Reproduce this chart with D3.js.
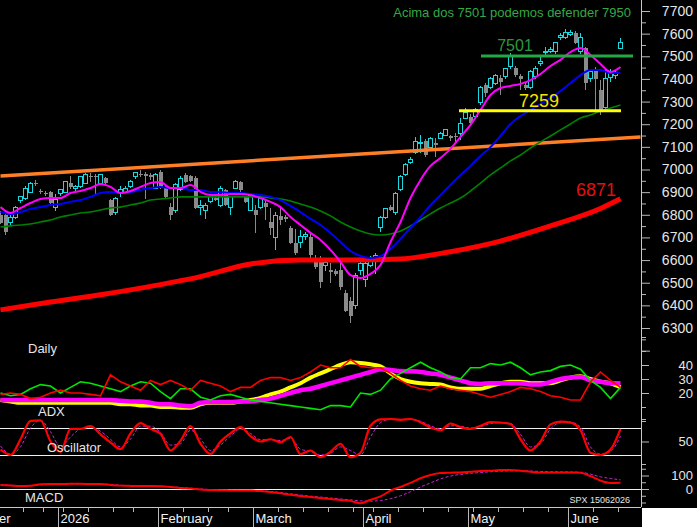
<!DOCTYPE html>
<html>
<head>
<meta charset="utf-8">
<script src="https://cdn.jsdelivr.net/npm/d3@7/dist/d3.min.js"></script>
<style>
  body { margin: 0; background: #000; }
  svg { display: block; }
  text { font-family: "Liberation Sans", Arial, sans-serif; }
</style>
</head>
<body>
<svg id="chart" width="697" height="527"></svg>
<script>
// ---- data: SPX daily, Dec 15 2025 .. Jun 15 2026 (one value per trading day) ----
var openP = [6800,6799,6768,6786,6861,6870,6900,6942,6905,6896,6900,6830,
  6896,6900,6940,6918,6927,6940,6972,6972,6940,6963,6865,6808,6896,6900,6923,6967,6982,6978,6975,6918,
  6990,6918,6834,6817,6910,6976,6970,6962,6830,6821,6857,6875,6843,6910,6834,6918,6945,6879,6821,
  6821,6834,6852,6768,6698,6795,6790,6742,6676,6676,6705,6702,6592,6592,6575,6556,6550,6556,6455,6419,6401,6552,
  6512,6578,6592,6746,6786,6834,6808,6910,6976,7033,7077,7113,7126,7099,7117,7139,7152,7148,7146,7161,7227,
  7232,7232,7294,7373,7364,7382,7404,7409,7453,7448,7413,7373,7364,7409,7470,7515,7523,7519,7585,7581,
  7598,7603,7519,7537,7400,7440,7351,7272,7405,7415,7535];
var highP = [6815,6805,6800,6840,6885,6925,6945,6955,6915,6905,6905,6890,
  6915,6950,6970,6930,6972,6985,6985,6980,6980,6968,6870,6880,6925,6925,6955,6990,7000,6990,6985,6985,
  7000,6925,6850,6940,6970,6985,6975,6970,6865,6850,6885,6880,6925,6915,6885,6955,6950,6885,6895,
  6843,6885,6860,6830,6812,6834,6800,6750,6737,6733,6725,6724,6623,6618,6600,6585,6560,6590,6470,6435,6545,6592,
  6605,6620,6630,6795,6830,6845,6900,6975,7030,7055,7144,7152,7135,7145,7139,7165,7180,7152,7161,7227,7272,
  7245,7270,7370,7380,7410,7422,7417,7450,7515,7455,7420,7385,7440,7455,7497,7541,7540,7565,7603,7620,
  7615,7610,7603,7541,7440,7453,7395,7440,7445,7440,7580];
var lowP = [6760,6712,6755,6780,6850,6865,6895,6925,6890,6885,6845,6815,
  6885,6895,6915,6900,6920,6935,6945,6887,6935,6935,6795,6800,6880,6895,6918,6960,6965,6870,6955,6912,
  6915,6875,6775,6810,6905,6940,6945,6825,6800,6780,6850,6860,6835,6840,6800,6912,6900,6850,6815,
  6720,6825,6777,6711,6645,6755,6770,6670,6623,6654,6690,6600,6560,6477,6550,6500,6530,6470,6370,6322,6385,6535,
  6481,6570,6539,6724,6780,6815,6800,6905,6970,7025,7070,7073,7055,7095,7055,7135,7148,7126,7113,7130,7227,
  7190,7225,7285,7320,7355,7375,7329,7400,7445,7410,7351,7350,7355,7400,7457,7506,7515,7510,7572,7575,
  7590,7555,7510,7351,7385,7245,7241,7262,7385,7400,7530];
var closeP = [6764,6724,6790,6834,6879,6918,6940,6938,6900,6893,6852,6866,
  6910,6945,6922,6927,6967,6976,6968,6965,6976,6940,6799,6874,6910,6918,6949,6985,6978,6972,6965,6980,
  6920,6879,6799,6932,6962,6945,6950,6830,6840,6843,6879,6865,6914,6843,6879,6949,6910,6857,6887,
  6799,6874,6834,6742,6795,6777,6782,6676,6631,6702,6715,6623,6570,6503,6590,6547,6540,6481,6375,6353,6530,6583,
  6587,6613,6618,6786,6826,6821,6892,6967,7024,7046,7122,7120,7064,7139,7110,7161,7175,7140,7142,7205,7250,
  7205,7263,7364,7338,7404,7417,7386,7444,7497,7417,7400,7360,7431,7448,7475,7523,7532,7559,7590,7607,
  7607,7559,7585,7382,7431,7400,7263,7400,7425,7430,7560];

// moving averages, one reading every second bar (bars 0,2,4,...,124)
var maFast = [6834,6808,6830,6852,6870,6874,6874,6896,6905,6918,
  6936,6923,6896,6905,6923,6940,6945,6918,6918,6932,
  6901,6887,6887,6892,6892,6887,6874,6857,6834,6790,
  6755,6720,6689,6645,6592,6534,6521,6539,6578,6680,
  6768,6874,6954,7016,7051,7091,7144,7197,7263,7329,
  7360,7369,7378,7395,7422,7457,7484,7519,7537,7506,
  7466,7431,7453];
var maMid = [6812,6804,6812,6826,6834,6843,6848,6857,6865,6879,
  6896,6901,6896,6901,6910,6918,6923,6918,6918,6910,
  6910,6901,6901,6896,6896,6892,6887,6879,6865,6839,
  6812,6782,6755,6720,6680,6640,6618,6609,6618,6649,
  6693,6742,6790,6843,6887,6932,6976,7016,7060,7099,
  7148,7201,7236,7263,7289,7316,7347,7382,7417,7439,
  7439,7426,7426];
var maSlow = [6746,6751,6755,6759,6768,6777,6790,6799,6808,6812,
  6821,6830,6834,6843,6852,6865,6870,6874,6879,6879,
  6879,6879,6879,6879,6879,6879,6879,6874,6870,6861,
  6848,6834,6817,6795,6768,6746,6728,6715,6711,6715,
  6728,6751,6777,6804,6830,6852,6874,6905,6940,6976,
  7007,7038,7064,7095,7122,7148,7175,7201,7227,7241,
  7258,7272,7285];
// 200-day average, read every tenth bar
var ma200Bars = [0,10,20,30,40,50,60,70,80,90,100,110,120,124];
var ma200 = [6380,6415,6447,6484,6527,6583,6600,6600,6605,6637,6684,6751,6828,6871];

// trend line and levels
var trendBars = [0, 128];
var trendVals = [6971, 7144];
var levelHigh = 7501;
var levelLow = 7259;

// ADX block (every second bar)
var plusDI = [20,18,19,23,26,25,20,24,28,27, 25,23,21,25,28,27,21,16,23,23,
  17,15,18,19,17,15,14,13,12,11, 10,9,8,11,11,10,20,19,22,30,
  34,38,42,38,35,31,30,38,38,41, 40,42,38,33,35,36,39,40,37,29, 24,16,24];
var minusDI = [19,20,19,16,17,20,22,20,20,19, 18,33,28,25,22,29,26,29,26,22,
  29,27,25,21,24,24,29,31,31,29, 31,35,40,38,38,44,39,38,38,34,
  29,25,23,22,25,23,22,21,19,17, 19,21,24,23,21,18,17,15,15,28, 35,29,24];
var adx = [15,14,13,13,13,13,13,13,13,13, 13,13,12,12,11,11,10,10,9.5,9.5,
  12,13,13,13,14,15,16.5,19,21,24, 27,31,34,37,40,42,41.5,40.5,39,34,
  30,28,27,26.5,26,24,23,23,23,25, 27,28,28,27,27,27,29,31,32,30, 28,27,24];
var adxr = [15,15,15,15,15,15,15,15,15,15, 15,15,14.5,14,14,13,12,12,11,10.5,
  13,13.5,13.5,13.5,14,14,15,16,18,20, 22,23,25,27,29,31,33,35,37,36.5,
  35.7,35.5,35,34,33,31,29,27,26.5,27, 27,27,27,26,26,28,30,31,31.5,29, 28,27,27];

// oscillator (every second bar)
var osc = [32,20,55,96,97,50,27,78,78,84, 66,48,33,68,91,78,67,30,52,84,
  45,22,50,68,82,62,50,55,48,60, 22,30,15,27,45,15,25,85,99,100,
  98,100,93,81,75,90,82,78,85,93, 92,89,55,30,50,88,94,92,75,25, 20,32,78];
var oscSignal = [40,22,38,80,97,72,38,60,78,82, 73,55,38,55,84,84,70,42,45,75,
  56,30,42,62,78,68,54,54,52,57, 33,28,20,24,38,30,20,60,92,99,
  99,99,95,85,78,85,84,80,83,90, 92,90,66,38,45,78,92,93,82,38, 22,28,62];

// MACD (every second bar)
var macd = [30,26,22,24,36,37,37,38,38,37, 37,30,25,23,22,22,20,15,8,3,
  -4,-7,-9,-11,-12,-12,-15,-22,-32,-43, -52,-60,-67,-74,-82,-88,-106,-80,-55,-12,
  15,45,80,104,118,121,123,128,133,136, 140,141,136,128,123,123,123,122,120,95, 62,45,47];
var macdSignal = [30,28,25,24,30,34,36,37,38,37, 37,33,28,25,23,22,21,17,11,6,
  0,-4,-7,-9,-11,-12,-13,-18,-26,-36, -45,-53,-60,-67,-74,-80,-88,-90,-85,-72,
  -50,-20,15,45,75,96,108,116,122,128, 132,134,135,133,130,128,127,126,124,110, 90,78,68];

// month names and holidays for the trading calendar
var monthNames = ["January","February","March","April","May","June","July","August","September","October","November","December"];
var holidays = ["2025-12-25","2026-01-01","2026-01-19","2026-02-16","2026-04-03","2026-05-25"];

var svg = d3.select('#chart');
var W = 697, H = 527, plotR = 641, axisY = 507;
var UP = '#18d8e0', DOWN = '#8a8a8a', TXT = '#e6e6e6';

svg.append('rect').attr('width', W).attr('height', H).attr('fill', '#000');

// trading calendar from Dec 1 2025; bar 0 is Dec 15
var days = [];
var fmt = d3.timeFormat('%Y-%m-%d');
d3.timeDay.range(new Date(2025, 11, 1), new Date(2026, 5, 16)).forEach(function(d){
  if (d.getDay() > 0 && d.getDay() < 6 && holidays.indexOf(fmt(d)) < 0) days.push(d);
});
var firstBar = days.findIndex(function(d){ return fmt(d) === '2025-12-15'; });

var xIdx = d3.scaleLinear().domain([0, 124]).range([0.5, 620.5]);
var yP = d3.scaleLinear().domain([6300, 7700]).range([328, 11]);
var yAdx = d3.scaleLinear().domain([20, 40]).range([393, 365]);
var yOsc = d3.scaleLinear().domain([20, 80]).range([455, 428]);
var yMacd = d3.scaleLinear().domain([0, 100]).range([489, 475.5]);

svg.append('clipPath').attr('id', 'plotclip')
  .append('rect').attr('x', 0).attr('y', 0).attr('width', plotR).attr('height', axisY);
var plot = svg.append('g').attr('clip-path', 'url(#plotclip)');

var bars = d3.range(closeP.length);
var every2 = function(arr){ return arr.map(function(v, k){ return [2 * k, v]; }); };
var isUp = function(i){ return closeP[i] >= openP[i]; };

// candles
var gC = plot.append('g').attr('shape-rendering', 'crispEdges');
gC.selectAll('line').data(bars).join('line')
  .attr('x1', function(i){ return xIdx(i); }).attr('x2', function(i){ return xIdx(i); })
  .attr('y1', function(i){ return yP(highP[i]); }).attr('y2', function(i){ return yP(lowP[i]); })
  .attr('stroke', function(i){ return isUp(i) ? UP : DOWN; });
gC.selectAll('rect').data(bars).join('rect')
  .attr('x', function(i){ return xIdx(i) - 2; })
  .attr('width', 4)
  .attr('y', function(i){ return yP(Math.max(openP[i], closeP[i])); })
  .attr('height', function(i){ return Math.max(1, Math.abs(yP(openP[i]) - yP(closeP[i]))); })
  .attr('fill', function(i){ return isUp(i) ? '#000' : DOWN; })
  .attr('stroke', function(i){ return isUp(i) ? UP : 'none'; });

// trend line
plot.append('line')
  .attr('x1', xIdx(trendBars[0])).attr('y1', yP(trendVals[0]))
  .attr('x2', xIdx(trendBars[1])).attr('y2', yP(trendVals[1]))
  .attr('stroke', '#ff7f27').attr('stroke-width', 3.5);

var priceLine = d3.line().x(function(d){ return xIdx(d[0]); }).y(function(d){ return yP(d[1]); })
  .curve(d3.curveMonotoneX);

plot.append('path').datum(ma200Bars.map(function(b, k){ return [b, ma200[k]]; }))
  .attr('d', priceLine).attr('fill', 'none').attr('stroke', '#ff0000').attr('stroke-width', 5);
plot.append('path').datum(every2(maSlow))
  .attr('d', priceLine).attr('fill', 'none').attr('stroke', '#008000').attr('stroke-width', 1.6);
plot.append('path').datum(every2(maMid))
  .attr('d', priceLine).attr('fill', 'none').attr('stroke', '#0000ff').attr('stroke-width', 2);
plot.append('path').datum(every2(maFast))
  .attr('d', priceLine).attr('fill', 'none').attr('stroke', '#ff00ff').attr('stroke-width', 2);

// support / resistance
plot.append('line').attr('x1', xIdx(96.1)).attr('x2', xIdx(126.5))
  .attr('y1', yP(levelHigh)).attr('y2', yP(levelHigh))
  .attr('stroke', '#22a845').attr('stroke-width', 3);
plot.append('line').attr('x1', xIdx(91.7)).attr('x2', xIdx(124.1))
  .attr('y1', yP(levelLow)).attr('y2', yP(levelLow))
  .attr('stroke', '#ffff00').attr('stroke-width', 3);

svg.append('text').attr('x', xIdx(102.9)).attr('y', yP(levelHigh) - 5)
  .attr('text-anchor', 'middle').attr('font-size', 16).attr('fill', '#2a9a3c').text(levelHigh);
svg.append('text').attr('x', xIdx(107.7)).attr('y', yP(levelLow) - 4)
  .attr('text-anchor', 'middle').attr('font-size', 18).attr('fill', '#f2e600').text(levelLow);
svg.append('text').attr('x', xIdx(119.1)).attr('y', yP(ma200[ma200.length - 1]) - 3)
  .attr('text-anchor', 'middle').attr('font-size', 18).attr('fill', '#e01010').text(ma200[ma200.length - 1]);
svg.append('text').attr('x', 631).attr('y', 17).attr('text-anchor', 'end')
  .attr('font-size', 13).attr('fill', '#35a845').text('Acima dos 7501 podemos defender 7950');

// ADX panel
var adxLine = function(curve){
  return d3.line().x(function(d){ return xIdx(d[0]); }).y(function(d){ return yAdx(d[1]); }).curve(curve);
};
plot.append('path').datum(every2(adx)).attr('d', adxLine(d3.curveMonotoneX))
  .attr('fill', 'none').attr('stroke', '#ffff00').attr('stroke-width', 4);
plot.append('path').datum(every2(adxr)).attr('d', adxLine(d3.curveMonotoneX))
  .attr('fill', 'none').attr('stroke', '#ff00ff').attr('stroke-width', 4.5);
plot.append('path').datum(every2(plusDI)).attr('d', adxLine(d3.curveLinear))
  .attr('fill', 'none').attr('stroke', '#00e600').attr('stroke-width', 1.6);
plot.append('path').datum(every2(minusDI)).attr('d', adxLine(d3.curveLinear))
  .attr('fill', 'none').attr('stroke', '#ff0000').attr('stroke-width', 1.6);

// oscillator panel
[20, 80].forEach(function(v){
  plot.append('line').attr('x1', 0).attr('x2', plotR).attr('y1', Math.round(yOsc(v)) + 0.5).attr('y2', Math.round(yOsc(v)) + 0.5)
    .attr('stroke', '#f0f0f0').attr('stroke-width', 1);
});
var oscLine = d3.line().x(function(d){ return xIdx(d[0]); }).y(function(d){ return yOsc(d[1]); }).curve(d3.curveMonotoneX);
plot.append('path').datum(every2(oscSignal)).attr('d', oscLine)
  .attr('fill', 'none').attr('stroke', '#d020e0').attr('stroke-width', 1).attr('stroke-dasharray', '3,2');
plot.append('path').datum(every2(osc)).attr('d', oscLine)
  .attr('fill', 'none').attr('stroke', '#ff0000').attr('stroke-width', 2.2);

// MACD panel
plot.append('line').attr('x1', 0).attr('x2', plotR).attr('y1', Math.round(yMacd(0)) + 0.5).attr('y2', Math.round(yMacd(0)) + 0.5)
  .attr('stroke', '#f0f0f0').attr('stroke-width', 1);
var macdLine = d3.line().x(function(d){ return xIdx(d[0]); }).y(function(d){ return yMacd(d[1]); }).curve(d3.curveMonotoneX);
plot.append('path').datum(every2(macdSignal)).attr('d', macdLine)
  .attr('fill', 'none').attr('stroke', '#d020e0').attr('stroke-width', 1).attr('stroke-dasharray', '3,2');
plot.append('path').datum(every2(macd)).attr('d', macdLine)
  .attr('fill', 'none').attr('stroke', '#ff0000').attr('stroke-width', 2);

// panel captions
[['Daily', 28, 353], ['ADX', 38, 416], ['Oscillator', 47, 452], ['MACD', 25, 502]].forEach(function(t){
  svg.append('text').attr('x', t[1]).attr('y', t[2]).attr('font-size', 13).attr('fill', TXT).text(t[0]);
});
svg.append('text').attr('x', 630).attr('y', 503).attr('text-anchor', 'end')
  .attr('font-size', 9).attr('fill', TXT).text('SPX 15062026');

// right axis
function rightAxis(scale, values, size, labels, fontSize){
  var g = svg.append('g').attr('transform', 'translate(' + plotR + ',0)')
    .call(d3.axisRight(scale).tickValues(values).tickSize(size)
      .tickFormat(function(d){ return labels && labels.indexOf(d) >= 0 ? d : ''; }));
  g.select('.domain').remove();
  g.selectAll('line').attr('stroke', '#b8b8b8');
  g.selectAll('text').filter(function(){ return this.textContent === ''; }).remove();
  g.selectAll('text').attr('text-anchor', 'end').attr('x', 52).attr('fill', TXT)
    .attr('font-size', fontSize || 14).attr('font-family', '"Liberation Sans", Arial, sans-serif');
  return g;
}
rightAxis(yP, d3.range(6200, 7701, 100), 9, d3.range(6300, 7701, 100), 14);
rightAxis(yP, d3.range(6250, 7700, 100), 5, null);
rightAxis(yAdx, [0, 10, 50, 60], 5, null);
rightAxis(yAdx, [20, 30, 40], 8, [20, 30, 40], 13);
rightAxis(yOsc, [0, 100], 5, null);
rightAxis(yOsc, [50], 8, [50], 13);
rightAxis(yMacd, [-100, -50, 50, 150], 5, null);
rightAxis(yMacd, [0, 100], 8, [0, 100], 13);

svg.append('line').attr('x1', plotR + 0.5).attr('x2', plotR + 0.5).attr('y1', 0).attr('y2', axisY)
  .attr('stroke', '#c8c8c8');
svg.append('line').attr('x1', 0).attr('x2', plotR).attr('y1', axisY + 0.5).attr('y2', axisY + 0.5)
  .attr('stroke', '#c8c8c8');
svg.append('rect').attr('x', plotR + 1).attr('y', axisY + 1).attr('width', W - plotR - 1).attr('height', H - axisY - 1)
  .attr('fill', '#fff');

// x axis: weekly and monthly ticks
var monthStarts = [], weekStarts = [];
days.forEach(function(d, k){
  var b = k - firstBar;
  if (k === 0 || d.getMonth() !== days[k - 1].getMonth()) monthStarts.push({bar: b, date: d});
  else if (d.getDay() < days[k - 1].getDay()) weekStarts.push(b);
});
svg.append('clipPath').attr('id', 'xclip').append('rect')
  .attr('x', 0).attr('y', -2).attr('width', plotR).attr('height', 30);
var gx = svg.append('g').attr('transform', 'translate(0,' + axisY + ')')
  .attr('clip-path', 'url(#xclip)');
gx.append('g').call(d3.axisBottom(xIdx).tickValues(weekStarts.map(function(b){ return b - 0.5; }))
  .tickSize(5).tickFormat(''))
  .call(function(g){ g.select('.domain').remove(); g.selectAll('line').attr('stroke', '#b8b8b8'); });
var gm = gx.append('g').call(d3.axisBottom(xIdx).tickValues(monthStarts.map(function(m){ return m.bar - 0.5; }))
  .tickSize(20)
  .tickFormat(function(v){
    var m = monthStarts.find(function(s){ return s.bar - 0.5 === v; }).date;
    return m.getMonth() === 0 ? String(m.getFullYear()) : monthNames[m.getMonth()];
  }));
gm.select('.domain').remove();
gm.selectAll('line').attr('stroke', '#b8b8b8');
gm.selectAll('text').attr('text-anchor', 'start').attr('x', 2).attr('y', 16).attr('dy', 0)
  .attr('fill', '#f0f0f0').attr('font-size', 13).attr('font-family', '"Liberation Sans", Arial, sans-serif');
</script>
</body>
</html>
